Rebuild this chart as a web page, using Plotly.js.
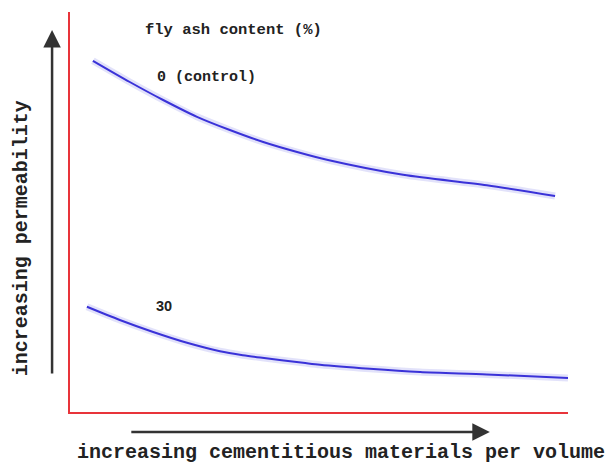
<!DOCTYPE html>
<html>
<head>
<meta charset="utf-8">
<script src="https://cdn.plot.ly/plotly-3.0.1.min.js"></script>
<style>html,body{margin:0;padding:0;background:#fff;}#chart{width:610px;height:468px;}</style>
</head>
<body>
<div id="chart"></div>
<script>
// Relative (unitless) positions read from the schematic
const controlX = [0.46, 1.2, 1.87, 2.55, 3.21, 3.88, 4.56, 5.18, 6.69, 8.37, 9.74];
const controlY = [8.78, 8.25, 7.8, 7.38, 7.05, 6.75, 6.5, 6.3, 5.93, 5.67, 5.4];
const flyAsh30X = [0.34, 1.0, 1.67, 2.35, 3.01, 3.47, 3.82, 4.68, 5.02, 6.02, 7.03, 8.37, 10.0];
const flyAsh30Y = [2.63, 2.3, 2.0, 1.73, 1.52, 1.42, 1.36, 1.23, 1.18, 1.08, 1.0, 0.94, 0.85];
const seriesNames = ["0 (control)", "30"];
const legendTitle = "fly ash content (%)";
const xLabel = "increasing cementitious materials per volume";
const yLabel = "increasing permeability";

const mono = "'Liberation Mono', 'Courier New', monospace";
const glow = (x, y) => ({x, y, mode: 'lines', line: {color: 'rgba(110,110,230,0.2)', width: 7, shape: 'spline', smoothing: 0.8}, hoverinfo: 'skip', showlegend: false});
const traces = [
  glow(controlX, controlY),
  glow(flyAsh30X, flyAsh30Y),
  {x: controlX, y: controlY, name: seriesNames[0], mode: 'lines', line: {color: '#3a32d8', width: 2, shape: 'spline', smoothing: 0.8}},
  {x: flyAsh30X, y: flyAsh30Y, name: seriesNames[1], mode: 'lines', line: {color: '#3a32d8', width: 2, shape: 'spline', smoothing: 0.8}}
];

const layout = {
  width: 610, height: 468,
  margin: {l: 70, r: 42, t: 12, b: 56},
  paper_bgcolor: '#fff', plot_bgcolor: '#fff',
  showlegend: false,
  xaxis: {range: [0, 10], showline: true, linecolor: '#e8343a', linewidth: 2, showgrid: false, zeroline: false, showticklabels: false, ticks: ''},
  yaxis: {range: [0, 10], showline: true, linecolor: '#e8343a', linewidth: 2, showgrid: false, zeroline: false, showticklabels: false, ticks: ''},
  annotations: [
    {xref: 'paper', yref: 'paper', x: 0.146, y: 0.955, text: '<b>' + legendTitle + '</b>', showarrow: false, xanchor: 'left', yanchor: 'middle', font: {family: mono, size: 15.5, color: '#222'}},
    {xref: 'paper', yref: 'paper', x: 0.17, y: 0.837, text: '<b>' + seriesNames[0] + '</b>', showarrow: false, xanchor: 'left', yanchor: 'middle', font: {family: mono, size: 15, color: '#222'}},
    {xref: 'paper', yref: 'paper', x: 0.168, y: 0.265, text: '<b>' + seriesNames[1] + '</b>', showarrow: false, xanchor: 'left', yanchor: 'middle', font: {family: "'Liberation Sans', Arial, sans-serif", size: 14.5, color: '#222'}},
    {xref: 'paper', yref: 'paper', x: 0.545, y: -0.1, text: '<b>' + xLabel + '</b>', showarrow: false, xanchor: 'center', yanchor: 'middle', font: {family: mono, size: 20, color: '#222'}},
    {xref: 'paper', yref: 'paper', x: -0.096, y: 0.435, text: '<b>' + yLabel + '</b>', showarrow: false, textangle: -90, xanchor: 'center', yanchor: 'middle', font: {family: mono, size: 20, color: '#222'}},
    {xref: 'paper', yref: 'paper', x: -0.036, y: 0.955, ax: 0, ay: 345, axref: 'pixel', ayref: 'pixel', text: '', showarrow: true, arrowhead: 2, arrowsize: 1.4, arrowwidth: 2.5, arrowcolor: '#333'},
    {xref: 'paper', yref: 'paper', x: 0.843, y: -0.05, ax: -360, ay: 0, axref: 'pixel', ayref: 'pixel', text: '', showarrow: true, arrowhead: 2, arrowsize: 1.4, arrowwidth: 2.5, arrowcolor: '#333'}
  ]
};

Plotly.newPlot('chart', traces, layout, {staticPlot: true, displayModeBar: false});
</script>
</body>
</html>
